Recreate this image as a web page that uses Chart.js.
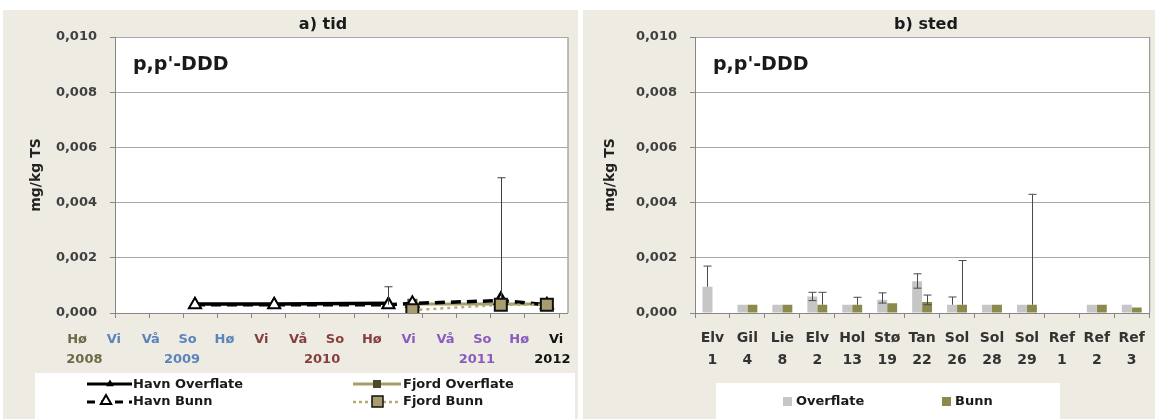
<!DOCTYPE html>
<html><head><meta charset="utf-8">
<script src="https://cdn.jsdelivr.net/npm/chart.js@4.4.1/dist/chart.umd.min.js"></script>
<style>
html,body{margin:0;padding:0;background:#fff;}
#wrap{position:relative;width:1155px;height:419px;overflow:hidden;}
#c1{position:absolute;left:0;top:0;}
#c2{position:absolute;left:578px;top:0;}
</style></head><body>
<div id="wrap">
<canvas id="c1" width="578" height="419"></canvas>
<canvas id="c2" width="577" height="419"></canvas>
</div>
<script>
// ---------- data: a) tid ----------
const seasons = ["Hø","Vi","Vå","So","Hø","Vi","Vå","So","Hø","Vi","Vå","So","Hø","Vi"];
const seasonYear = [0,1,1,1,1,2,2,2,2,3,3,3,3,4];
const years = ["2008","2009","2010","2011","2012"];
const yearAnchor = [0.2, 2.85, 6.65, 10.85, 12.9];
const sampleTimes = [3.2, 5.35, 8.45, 9.1, 11.5, 12.75];
const havnOverflate = [0.00033, 0.00033, 0.00035, null, 0.00055, null];
const havnOverflateErr = [null, null, null, null, 0.00435, null];
const havnBunn = [0.0003, 0.0003, 0.0003, 0.00035, 0.00045, 0.0003];
const havnBunnErr = [null, null, 0.00065, null, null, null];
const fjordOverflate = [null, null, null, 0.00033, 0.00033, 0.00033];
const fjordBunn = [null, null, null, 0.0001, 0.0003, 0.0003];

// ---------- data: b) sted ----------
const stations = [["Elv","1"],["Gil","4"],["Lie","8"],["Elv","2"],["Hol","13"],["Stø","19"],["Tan","22"],["Sol","26"],["Sol","28"],["Sol","29"],["Ref","1"],["Ref","2"],["Ref","3"]];
const overflate = [0.00095, 0.0003, 0.0003, 0.0006, 0.0003, 0.00048, 0.00115, 0.0003, 0.0003, 0.0003, null, 0.0003, 0.0003];
const overflateErrUp = [0.00075, null, null, 0.00015, null, 0.00025, 0.00027, 0.00028, null, null, null, null, null];
const overflateErrDown = [null, null, null, 0.00015, null, 0.00012, 0.00025, null, null, null, null, null, null];
const bunn = [null, 0.0003, 0.0003, 0.0003, 0.0003, 0.00035, 0.0004, 0.0003, 0.0003, 0.0003, null, 0.0003, 0.0002];
const bunnErrUp = [null, null, null, 0.00045, 0.00027, null, 0.00025, 0.0016, null, 0.004, null, null, null];
const bunnErrDown = [null, null, null, null, null, null, 0.0001, null, null, null, null, null, null];

const yTicks = {min: 0, max: 0.01, step: 0.002};

// ---------- style ----------
const FONT = "'DejaVu Sans', sans-serif";
const BEIGE = '#eeebe2';
const AXIS = '#868686';
const GRID = '#a8a8a8';
const TICKC = '#404040';
const yearColors = ['#6e6a48', '#5a84bb', '#863f3f', '#8a5cc0', '#111111'];
const X_MIN = 1.03, X_MAX = 13.31, X_TICK_STEP = 0.927;

function fmt(v){ return v.toFixed(3).replace('.', ','); }

function yScaleOpts(width, titlePad){
  return {
    min: yTicks.min, max: yTicks.max,
    ticks: {stepSize: yTicks.step, callback: v => fmt(v), color: TICKC,
            font: {family: FONT, weight: 'bold', size: 13}, padding: 13},
    grid: {color: GRID, tickLength: 5, drawTicks: true, tickColor: AXIS},
    border: {color: AXIS},
    title: {display: true, text: 'mg/kg TS', color: '#222',
            font: {family: FONT, weight: 'bold', size: 14}, padding: {top: titlePad, bottom: 0}},
    afterFit(s){ s.width = width; }
  };
}

function drawErr(ctx, x, yTop, yBot, capTop, capBot){
  ctx.beginPath();
  ctx.moveTo(x, yBot); ctx.lineTo(x, yTop);
  if (capTop){ ctx.moveTo(x-4, yTop); ctx.lineTo(x+4, yTop); }
  if (capBot){ ctx.moveTo(x-4, yBot); ctx.lineTo(x+4, yBot); }
  ctx.stroke();
}

function panelBg(chart){
  const c = chart.ctx, a = chart.chartArea;
  c.save();
  c.fillStyle = BEIGE;
  c.fillRect(chart.canvas.id === 'c1' ? 3 : 5, 10, chart.width, chart.height - 10);
  c.fillStyle = '#ffffff';
  c.fillRect(a.left, a.top, a.right - a.left, a.bottom - a.top);
  c.restore();
}

function drawBorderAndLabels(chart, title, titleX){
  const c = chart.ctx, a = chart.chartArea;
  c.save();
  c.strokeStyle = AXIS; c.lineWidth = 1;
  c.beginPath(); c.moveTo(a.right + 0.5, a.top); c.lineTo(a.right + 0.5, a.bottom); c.stroke();
  c.fillStyle = '#1a1a1a';
  c.textAlign = 'center'; c.textBaseline = 'middle';
  c.font = 'bold 16px ' + FONT;
  c.fillText(title, titleX, 25);
  c.textAlign = 'left';
  c.font = 'bold 19px ' + FONT;
  c.fillText("p,p'-DDD", a.left + 18, 65);
  c.restore();
}

function triPath(c, x, y, r){
  c.beginPath();
  c.moveTo(x, y - r);
  c.lineTo(x + r * 0.866, y + r * 0.5);
  c.lineTo(x - r * 0.866, y + r * 0.5);
  c.closePath();
}

// ---------- chart a ----------
const pts = arr => arr.map((v, i) => ({x: sampleTimes[i], y: v}));

const leftPlugin = {
  id: 'leftPlugin',
  beforeDraw: panelBg,
  afterDatasetsDraw(chart){
    const c = chart.ctx, xs = chart.scales.x, ys = chart.scales.y;
    c.save(); c.strokeStyle = '#404040'; c.lineWidth = 1;
    [[havnOverflate, havnOverflateErr], [havnBunn, havnBunnErr]].forEach(([vals, errs]) => {
      errs.forEach((e, i) => {
        if (e == null || vals[i] == null) return;
        const x = Math.round(xs.getPixelForValue(sampleTimes[i])) + 0.5;
        drawErr(c, x, ys.getPixelForValue(vals[i] + e), ys.getPixelForValue(vals[i]), true, false);
      });
    });
    c.restore();
  },
  afterDraw(chart){
    drawBorderAndLabels(chart, 'a) tid', 323);
    const c = chart.ctx, xs = chart.scales.x;
    c.save();
    c.textAlign = 'center'; c.textBaseline = 'middle';
    c.font = 'bold 13px ' + FONT;
    seasons.forEach((s, i) => {
      c.fillStyle = yearColors[seasonYear[i]];
      c.fillText(s, xs.getPixelForValue(i), 340);
    });
    years.forEach((y, i) => {
      c.fillStyle = yearColors[i];
      c.fillText(y, xs.getPixelForValue(yearAnchor[i]), 360);
    });
    // legend box
    c.fillStyle = '#ffffff';
    c.fillRect(35, 373, 540, 50);
    c.font = 'bold 13px ' + FONT;
    c.textAlign = 'left'; c.fillStyle = '#1a1a1a';
    // Havn Overflate
    c.strokeStyle = '#000'; c.lineWidth = 3; c.setLineDash([]);
    c.beginPath(); c.moveTo(87, 384); c.lineTo(132, 384); c.stroke();
    c.fillStyle = '#000'; triPath(c, 110, 384, 4.5); c.fill();
    c.fillStyle = '#1a1a1a'; c.fillText('Havn Overflate', 133, 385);
    // Havn Bunn
    c.setLineDash([8, 6]);
    c.beginPath(); c.moveTo(87, 402); c.lineTo(132, 402); c.stroke();
    c.setLineDash([]);
    c.fillStyle = '#fff'; c.lineWidth = 2; triPath(c, 106, 401, 6); c.fill(); c.stroke();
    c.fillStyle = '#1a1a1a'; c.fillText('Havn Bunn', 133, 402);
    // Fjord Overflate
    c.strokeStyle = '#a39e6c'; c.lineWidth = 3;
    c.beginPath(); c.moveTo(353, 384); c.lineTo(401, 384); c.stroke();
    c.fillStyle = '#4d4a2c'; c.fillRect(373, 380, 8, 8);
    c.fillStyle = '#1a1a1a'; c.fillText('Fjord Overflate', 403, 385);
    // Fjord Bunn
    c.strokeStyle = '#b3ab72'; c.lineWidth = 2.5; c.setLineDash([3, 3]);
    c.beginPath(); c.moveTo(353, 402); c.lineTo(401, 402); c.stroke();
    c.setLineDash([]);
    c.fillStyle = '#a89d6e'; c.strokeStyle = '#111'; c.lineWidth = 1.5;
    c.fillRect(372, 396, 11, 11); c.strokeRect(372, 396, 11, 11);
    c.fillStyle = '#1a1a1a'; c.fillText('Fjord Bunn', 403, 402);
    c.restore();
  }
};

new Chart(document.getElementById('c1'), {
  type: 'line',
  data: {
    datasets: [
      {label: 'Havn Overflate', data: pts(havnOverflate), borderColor: '#000', borderWidth: 3.5,
       pointStyle: 'triangle', pointRadius: 4, pointBackgroundColor: '#000', pointBorderColor: '#000', order: 2},
      {label: 'Fjord Overflate', data: pts(fjordOverflate), borderColor: '#a39e6c', borderWidth: 3,
       pointStyle: 'rect', pointRadius: 5, pointBackgroundColor: '#4d4a2c', pointBorderColor: '#4d4a2c', order: 3},
      {label: 'Havn Bunn', data: pts(havnBunn), borderColor: '#000', borderWidth: 3.5, borderDash: [10, 6],
       pointStyle: 'triangle', pointRadius: 7, pointBackgroundColor: '#fff', pointBorderColor: '#000', pointBorderWidth: 2, order: 1},
      {label: 'Fjord Bunn', data: pts(fjordBunn), borderColor: '#b3ab72', borderWidth: 2.5, borderDash: [3, 4],
       pointStyle: 'rect', pointRadius: 8.5, pointBackgroundColor: '#a89d6e', pointBorderColor: '#111', pointBorderWidth: 2, order: 0}
    ]
  },
  options: {
    responsive: false, animation: false, devicePixelRatio: 1,
    layout: {padding: {left: 0, right: 10, top: 37, bottom: 0}},
    plugins: {legend: {display: false}, tooltip: {enabled: false}},
    scales: {
      x: {type: 'linear', min: X_MIN, max: X_MAX,
          afterBuildTicks(s){ s.ticks = Array.from({length: 14}, (_, k) => ({value: X_MIN + k * X_TICK_STEP})); },
          ticks: {display: false},
          grid: {drawOnChartArea: false, drawTicks: true, tickLength: 5, color: AXIS},
          border: {color: AXIS},
          afterFit(s){ s.height = 106; }},
      y: yScaleOpts(115, 28)
    }
  },
  plugins: [leftPlugin]
});

// ---------- chart b ----------
const rightPlugin = {
  id: 'rightPlugin',
  beforeDraw: panelBg,
  afterDatasetsDraw(chart){
    const c = chart.ctx, ys = chart.scales.y;
    c.save(); c.strokeStyle = '#4a4a4a'; c.lineWidth = 1;
    [[overflate, overflateErrUp, overflateErrDown], [bunn, bunnErrUp, bunnErrDown]].forEach(([vals, up, down], d) => {
      const meta = chart.getDatasetMeta(d);
      vals.forEach((v, i) => {
        if (v == null || (up[i] == null && down[i] == null)) return;
        const x = Math.round(meta.data[i].x) + 0.5;
        const hi = v + (up[i] || 0), lo = v - (down[i] || 0);
        drawErr(c, x, ys.getPixelForValue(hi), ys.getPixelForValue(lo), up[i] != null, down[i] != null);
      });
    });
    c.restore();
  },
  afterDraw(chart){
    drawBorderAndLabels(chart, 'b) sted', 926 - 578);
    const c = chart.ctx;
    c.save();
    c.fillStyle = '#ffffff';
    c.fillRect(138, 383, 344, 40);
    c.font = 'bold 13px ' + FONT;
    c.textAlign = 'left'; c.textBaseline = 'middle';
    c.fillStyle = '#c6c6c6'; c.fillRect(205, 397, 9, 9);
    c.fillStyle = '#1a1a1a'; c.fillText('Overflate', 218, 402);
    c.fillStyle = '#8c894c'; c.fillRect(364, 397, 9, 9);
    c.fillStyle = '#1a1a1a'; c.fillText('Bunn', 377, 402);
    c.restore();
  }
};

new Chart(document.getElementById('c2'), {
  type: 'bar',
  data: {
    labels: stations,
    datasets: [
      {label: 'Overflate', data: overflate, backgroundColor: '#c6c6c6', categoryPercentage: 0.57, barPercentage: 1.0},
      {label: 'Bunn', data: bunn, backgroundColor: '#8c894c', categoryPercentage: 0.57, barPercentage: 1.0}
    ]
  },
  options: {
    responsive: false, animation: false, devicePixelRatio: 1,
    layout: {padding: {left: 0, right: 2, top: 37, bottom: 0}},
    plugins: {legend: {display: false}, tooltip: {enabled: false}},
    scales: {
      x: {ticks: {color: '#333', font: {family: FONT, weight: 'bold', size: 14, lineHeight: 1.55}, padding: 10,
                  maxRotation: 0, autoSkip: false},
          grid: {drawOnChartArea: false, drawTicks: true, tickLength: 5, color: AXIS, offset: true},
          border: {color: AXIS},
          afterFit(s){ s.height = 106; }},
      y: yScaleOpts(117, 24)
    }
  },
  plugins: [rightPlugin]
});
</script>
</body></html>
